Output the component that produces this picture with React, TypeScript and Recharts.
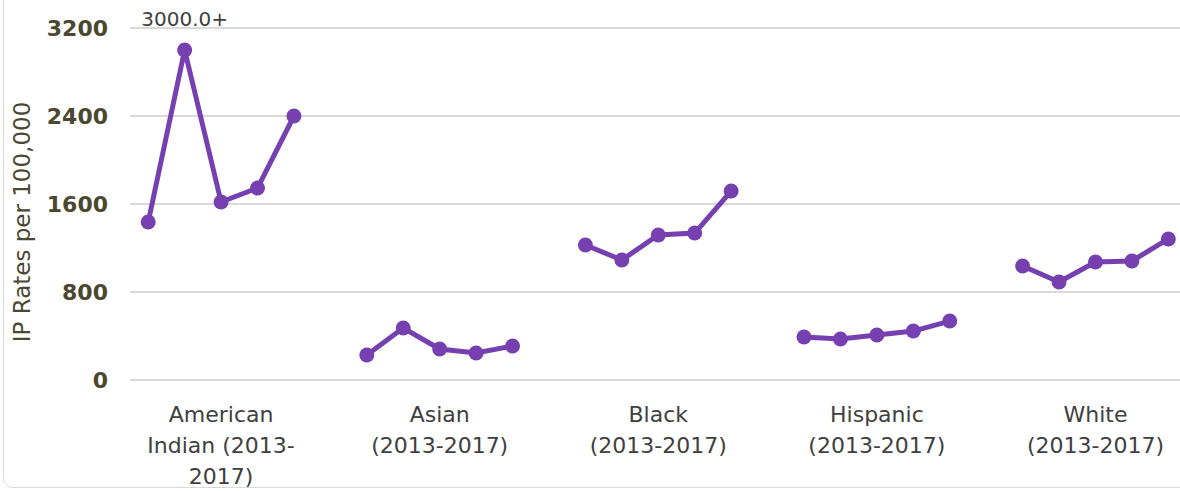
import React from 'react';
import { LineChart, Line, XAxis, YAxis, CartesianGrid, LabelList } from 'recharts';

// Inpatient rates per 100,000, by group, five years each (2013-2017)
const categories = ['American Indian', 'Asian', 'Black', 'Hispanic', 'White'];
const categoryLines = [
  ['American', 'Indian (2013-', '2017)'],
  ['Asian', '(2013-2017)'],
  ['Black', '(2013-2017)'],
  ['Hispanic', '(2013-2017)'],
  ['White', '(2013-2017)'],
];
const years = ['2013', '2014', '2015', '2016', '2017'];

const americanIndian = [1436, 3000, 1618, 1745, 2400];
const asian = [227, 473, 282, 245, 309];
const black = [1227, 1091, 1318, 1336, 1718];
const hispanic = [391, 373, 409, 445, 536];
const white = [1036, 891, 1073, 1082, 1282];

const yTicks = [0, 800, 1600, 2400, 3200];

// the American Indian 2014 point is capped in the chart
const cappedGroup = 0;
const cappedYear = 1;
const cappedLabel = '3000.0+';

const PURPLE = '#7640b0';
const OLIVE = '#4b4730';
const DARK = '#404040';
const FONT = '"DejaVu Sans", sans-serif';

const seriesByGroup = [americanIndian, asian, black, hispanic, white];
const SLOT = years.length + 1; // one empty slot between groups

const rows: { x: number; rate: number | null; label?: string }[] = [];
seriesByGroup.forEach((values, g) => {
  values.forEach((v, i) => {
    rows.push({
      x: g * SLOT + i,
      rate: v,
      label: g === cappedGroup && i === cappedYear ? cappedLabel : undefined,
    });
  });
  if (g < seriesByGroup.length - 1) rows.push({ x: g * SLOT + years.length, rate: null });
});

const groupCenters = categories.map((_, g) => g * SLOT + (years.length - 1) / 2);

const CategoryTick = (props: any) => {
  const { x, y, payload } = props;
  const g = groupCenters.indexOf(payload.value);
  const lines = categoryLines[g] || [];
  return (
    <text x={x} y={y} textAnchor="middle" fill={DARK} fontFamily={FONT} fontSize={22}>
      {lines.map((l, i) => (
        <tspan key={i} x={x} dy={i === 0 ? 34 : 31}>
          {l}
        </tspan>
      ))}
    </text>
  );
};

const PointLabel = (props: any) => {
  const { x, y, value } = props;
  if (!value) return null;
  return (
    <text x={x} y={y - 24} textAnchor="middle" fill={DARK} fontFamily={FONT} fontSize={20}>
      {value}
    </text>
  );
};

export default function App() {
  return (
    <div style={{ position: 'absolute', left: 0, top: 0, width: 1180, height: 491, overflow: 'hidden', background: '#fff' }}>
      <div
        style={{
          position: 'absolute',
          left: 3,
          top: -20,
          width: 1220,
          height: 506,
          border: '1.5px solid #d9d9d9',
          borderRadius: 10,
        }}
      />
      <LineChart width={1180} height={491} data={rows} margin={{ top: 28, right: 0, bottom: 0, left: 0 }}>
        <CartesianGrid vertical={false} stroke="#d9d9d9" strokeWidth={2} />
        <XAxis
          type="number"
          dataKey="x"
          domain={[-0.5, 28.32]}
          ticks={groupCenters}
          interval={0}
          axisLine={false}
          tickLine={false}
          height={111}
          tick={<CategoryTick />}
        />
        <YAxis
          domain={[0, 3200]}
          ticks={yTicks}
          axisLine={false}
          tickLine={false}
          tickSize={0}
          tickMargin={22}
          width={130}
          tick={{ fill: OLIVE, fontFamily: FONT, fontSize: 22, fontWeight: 'bold' }}
          label={{
            content: () => (
              <text
                x={22}
                y={222}
                transform="rotate(-90, 22, 222)"
                textAnchor="middle"
                dominantBaseline="central"
                fill={OLIVE}
                fontFamily={FONT}
                fontSize={23}
              >
                IP Rates per 100,000
              </text>
            ),
          }}
        />
        <Line
          type="linear"
          dataKey="rate"
          stroke={PURPLE}
          strokeWidth={5}
          dot={{ r: 7.5, fill: PURPLE, stroke: PURPLE, strokeWidth: 0 }}
          activeDot={false}
          connectNulls={false}
          isAnimationActive={false}
        >
          <LabelList dataKey="label" content={<PointLabel />} />
        </Line>
      </LineChart>
    </div>
  );
}
